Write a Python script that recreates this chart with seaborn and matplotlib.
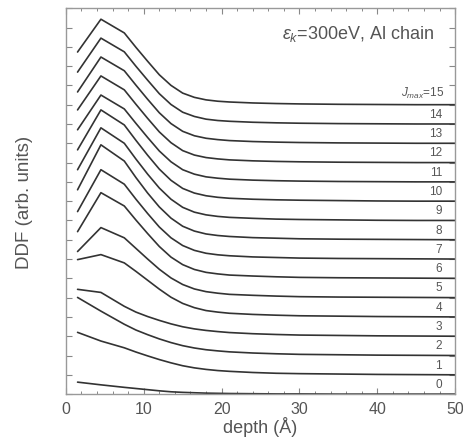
import numpy as np
import pandas as pd
import matplotlib
matplotlib.use("Agg")
import matplotlib.pyplot as plt
from matplotlib.ticker import MultipleLocator
import seaborn as sns

# depth grid (Å)
depth = [1.5, 4.5, 7.5, 9, 10.5, 12, 13.5, 15, 16.5, 18, 19.5, 21, 24, 27, 30, 35, 40, 45, 50]

# DDF values (arb. units) for each J_max, before vertical stacking
ddf_j15 = [2.73, 4.43, 3.72, 2.97, 2.25, 1.55, 1.00, 0.60, 0.38, 0.25, 0.18, 0.14, 0.09, 0.06, 0.04, 0.02, 0.01, 0.00, 0.00]
ddf_j14 = [2.69, 4.45, 3.74, 2.99, 2.27, 1.57, 1.01, 0.61, 0.39, 0.25, 0.18, 0.14, 0.09, 0.06, 0.04, 0.02, 0.01, 0.00, 0.00]
ddf_j13 = [2.66, 4.47, 3.76, 3.01, 2.28, 1.58, 1.02, 0.62, 0.39, 0.26, 0.19, 0.14, 0.09, 0.06, 0.04, 0.02, 0.01, 0.00, 0.00]
ddf_j12 = [2.73, 4.49, 3.77, 3.02, 2.29, 1.59, 1.03, 0.62, 0.39, 0.26, 0.19, 0.14, 0.09, 0.06, 0.04, 0.02, 0.01, 0.00, 0.00]
ddf_j11 = [2.70, 4.50, 3.78, 3.03, 2.30, 1.60, 1.04, 0.63, 0.40, 0.26, 0.19, 0.14, 0.09, 0.06, 0.04, 0.02, 0.01, 0.00, 0.00]
ddf_j10 = [2.66, 4.73, 3.95, 3.15, 2.38, 1.66, 1.08, 0.66, 0.42, 0.28, 0.20, 0.15, 0.10, 0.07, 0.05, 0.03, 0.01, 0.00, 0.00]
ddf_j9 = [2.63, 4.80, 4.00, 3.18, 2.40, 1.68, 1.10, 0.68, 0.43, 0.29, 0.21, 0.16, 0.11, 0.07, 0.05, 0.03, 0.01, 0.00, 0.00]
ddf_j8 = [2.59, 4.92, 4.08, 3.22, 2.42, 1.70, 1.12, 0.70, 0.45, 0.30, 0.22, 0.17, 0.11, 0.08, 0.05, 0.03, 0.02, 0.01, 0.00]
ddf_j7 = [2.46, 4.63, 3.88, 3.10, 2.36, 1.66, 1.10, 0.70, 0.45, 0.30, 0.22, 0.17, 0.11, 0.08, 0.05, 0.03, 0.02, 0.01, 0.00]
ddf_j6 = [2.42, 4.44, 3.75, 3.02, 2.32, 1.65, 1.10, 0.71, 0.46, 0.31, 0.23, 0.17, 0.12, 0.08, 0.05, 0.03, 0.02, 0.01, 0.00]
ddf_j5 = [2.39, 3.63, 3.10, 2.55, 2.00, 1.47, 1.02, 0.68, 0.45, 0.31, 0.23, 0.17, 0.12, 0.08, 0.05, 0.03, 0.02, 0.01, 0.00]
ddf_j4 = [2.97, 3.23, 2.80, 2.36, 1.90, 1.44, 1.02, 0.70, 0.48, 0.33, 0.25, 0.19, 0.13, 0.09, 0.06, 0.04, 0.02, 0.01, 0.00]
ddf_j3 = [2.43, 2.27, 1.55, 1.25, 1.02, 0.82, 0.64, 0.49, 0.38, 0.30, 0.24, 0.19, 0.13, 0.09, 0.06, 0.04, 0.02, 0.01, 0.00]
ddf_j2 = [3.01, 2.30, 1.62, 1.32, 1.08, 0.86, 0.67, 0.51, 0.39, 0.30, 0.24, 0.19, 0.13, 0.09, 0.06, 0.04, 0.02, 0.01, 0.00]
ddf_j1 = [2.20, 1.75, 1.40, 1.18, 0.98, 0.79, 0.62, 0.47, 0.36, 0.28, 0.22, 0.18, 0.12, 0.08, 0.06, 0.04, 0.02, 0.01, 0.00]
ddf_j0 = [0.62, 0.48, 0.35, 0.29, 0.23, 0.17, 0.12, 0.09, 0.07, 0.05, 0.04, 0.03, 0.02, 0.01, 0.01, 0.00, 0.00, 0.00, 0.00]

jmax_values = list(range(16))
curve_labels = ["0", "1", "2", "3", "4", "5", "6", "7", "8", "9", "10", "11", "12", "13", "14"]
top_label = r"$J_{max}$=15"
title_text = r"$\varepsilon_k$=300eV, Al chain"
xticks = [0, 10, 20, 30, 40, 50]

series = [ddf_j0, ddf_j1, ddf_j2, ddf_j3, ddf_j4, ddf_j5, ddf_j6, ddf_j7,
          ddf_j8, ddf_j9, ddf_j10, ddf_j11, ddf_j12, ddf_j13, ddf_j14, ddf_j15]

rows = []
for j, vals in zip(jmax_values, series):
    for d, v in zip(depth, vals):
        rows.append({"depth": d, "J": j, "ddf": v + j})  # vertical stacking by J
df = pd.DataFrame(rows)

sns.set_theme(style="ticks")
plt.rcParams["font.family"] = ["Liberation Sans", "DejaVu Sans"]
plt.rcParams["mathtext.fontset"] = "custom"
plt.rcParams["mathtext.rm"] = "Liberation Sans"
plt.rcParams["mathtext.it"] = "Liberation Sans:italic"

txt = "#555555"
fig = plt.figure(figsize=(4.64, 4.39), dpi=100)
ax = fig.add_axes([0.142, 0.100, 0.839, 0.879])

sns.lineplot(data=df, x="depth", y="ddf", units="J", estimator=None,
             color="#333333", linewidth=1.2, ax=ax, legend=False)

ax.set_xlim(0, 50)
ax.set_ylim(0, 20)
ax.set_xticks(xticks)
ax.xaxis.set_minor_locator(MultipleLocator(2))
ax.yaxis.set_major_locator(MultipleLocator(1))
ax.set_yticklabels([])
ax.tick_params(axis="both", which="both", direction="in", top=True, right=True,
               colors="#888888", labelcolor=txt, labelsize=11.5)
ax.tick_params(axis="x", which="major", pad=5)
ax.tick_params(which="major", length=4, width=0.8)
ax.tick_params(which="minor", length=2.5, width=0.7)
for s in ax.spines.values():
    s.set_color("#999999")
    s.set_linewidth(1.0)

ax.set_xlabel("depth (Å)", fontsize=13, color=txt, labelpad=0)
ax.set_ylabel("DDF (arb. units)", fontsize=13.5, color=txt, labelpad=20)

for j, lab in zip(range(15), curve_labels):
    ax.text(48.3, j + 0.22, lab, ha="right", va="bottom", fontsize=8.5, color=txt)
ax.text(48.6, 15 + 0.22, top_label, ha="right", va="bottom", fontsize=8.5, color=txt)
ax.text(47.3, 18.2, title_text, ha="right", va="bottom", fontsize=13, color=txt)

fig.savefig("out.png", dpi=100)
